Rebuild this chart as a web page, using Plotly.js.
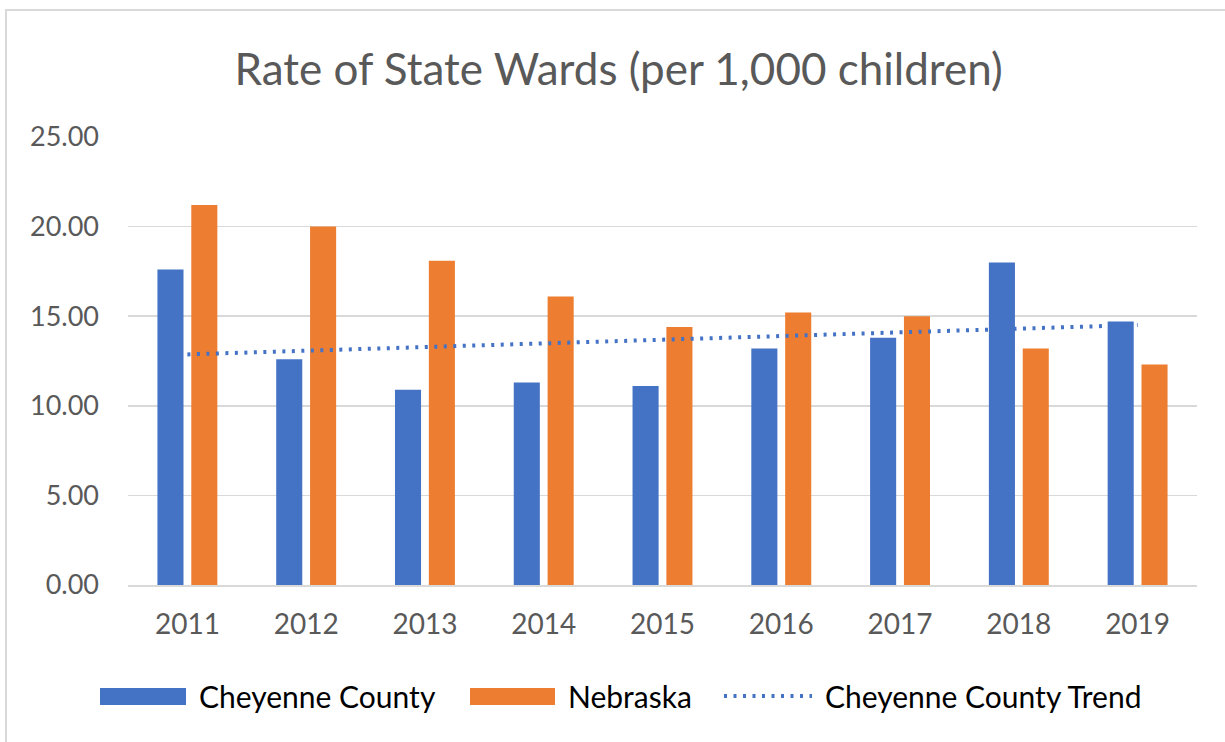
<!DOCTYPE html>
<html>
<head>
<meta charset="utf-8">
<script src="https://cdn.plot.ly/plotly-3.0.1.min.js"></script>
<style>
  body{margin:0;background:#fff;}
  #wrap{position:relative;width:1225px;height:742px;overflow:hidden;}
  #frame{position:absolute;left:5px;top:9px;width:1300px;height:800px;border-left:2px solid #d9d9d9;border-top:2px solid #d9d9d9;}
  #chart{position:absolute;left:0;top:0;width:1225px;height:742px;}
</style>
</head>
<body>
<div id="wrap"><div id="frame"></div><div id="chart"></div></div>
<script>
const years = ['2011','2012','2013','2014','2015','2016','2017','2018','2019'];
const cheyenne = [17.6, 12.6, 10.9, 11.3, 11.1, 13.2, 13.8, 18.0, 14.7];
const nebraska = [21.2, 20.0, 18.1, 16.1, 14.4, 15.2, 15.0, 13.2, 12.3];
const seriesNames = ['Cheyenne County', 'Nebraska', 'Cheyenne County Trend'];

// linear least-squares trend of the Cheyenne County series (Excel-style trendline)
function linearTrend(ys){
  const n = ys.length, xs = ys.map((_, i) => i);
  const mx = xs.reduce((a, b) => a + b, 0) / n, my = ys.reduce((a, b) => a + b, 0) / n;
  let sxy = 0, sxx = 0;
  xs.forEach((x, i) => { sxy += (x - mx) * (ys[i] - my); sxx += (x - mx) * (x - mx); });
  const m = sxy / sxx;
  return xs.map(x => my + m * (x - mx));
}
const trend = linearTrend(cheyenne);

const W = 1225, H = 742, M = {l:128, r:28, t:137, b:157};
const FONT = 'Lato, "Open Sans", sans-serif';
const BLUE = '#4472C4', ORANGE = '#ED7D31';
const TREND_DASH = '3px,6.5px';

// pixel -> paper helpers for the hand-drawn legend (Excel-style wide swatches)
const px = v => (v - M.l) / (W - M.l - M.r);
const py = v => (H - M.b - v) / (H - M.t - M.b);

const traces = [
  {type:'bar', name:seriesNames[0], x:years, y:cheyenne, marker:{color:BLUE}},
  {type:'bar', name:seriesNames[1], x:years, y:nebraska, marker:{color:ORANGE}},
  {type:'scatter', mode:'lines', name:seriesNames[2], x:years, y:trend,
   line:{color:BLUE, width:4, dash:TREND_DASH}}
];

const legendY = 696;
const shapes = [
  {type:'rect', xref:'paper', yref:'paper', x0:px(100), x1:px(186), y0:py(705), y1:py(688),
   fillcolor:BLUE, line:{width:0}},
  {type:'rect', xref:'paper', yref:'paper', x0:px(470), x1:px(555), y0:py(705), y1:py(688),
   fillcolor:ORANGE, line:{width:0}},
  {type:'line', xref:'paper', yref:'paper', x0:px(724), x1:px(812), y0:py(legendY), y1:py(legendY),
   line:{color:BLUE, width:4, dash:TREND_DASH}}
];
const legendText = [[197, seriesNames[0]], [566, seriesNames[1]], [823, seriesNames[2]]];
const annotations = legendText.map(([x, t]) => ({
  xref:'paper', yref:'paper', x:px(x), y:py(legendY), xanchor:'left', yanchor:'middle',
  text:t, showarrow:false, font:{family:FONT, size:30, color:'#000'}
}));

const layout = {
  width:W, height:H, margin:M,
  paper_bgcolor:'rgba(0,0,0,0)', plot_bgcolor:'rgba(0,0,0,0)',
  font:{family:FONT, color:'#595959'},
  title:{text:'Rate of State Wards (per 1,000 children)', font:{family:FONT, size:44, color:'#595959'},
         x:0.505, xanchor:'center', y:0.906, yanchor:'middle'},
  barmode:'group', bargap:0.43, bargroupgap:0.23,
  xaxis:{type:'category', showgrid:false, showline:true, linecolor:'#d9d9d9', linewidth:1.5,
         ticks:'', tickfont:{size:28, color:'#595959'}, ticklabelstandoff:14},
  yaxis:{range:[0,25], dtick:5, tickformat:'.2f', gridcolor:'#d9d9d9', gridwidth:1.5,
         zeroline:false, showline:false, ticks:'', tickfont:{size:27, color:'#595959'}, ticklabelstandoff:28},
  showlegend:false,
  shapes, annotations
};

Plotly.newPlot('chart', traces, layout, {displayModeBar:false, staticPlot:true});
</script>
</body>
</html>
